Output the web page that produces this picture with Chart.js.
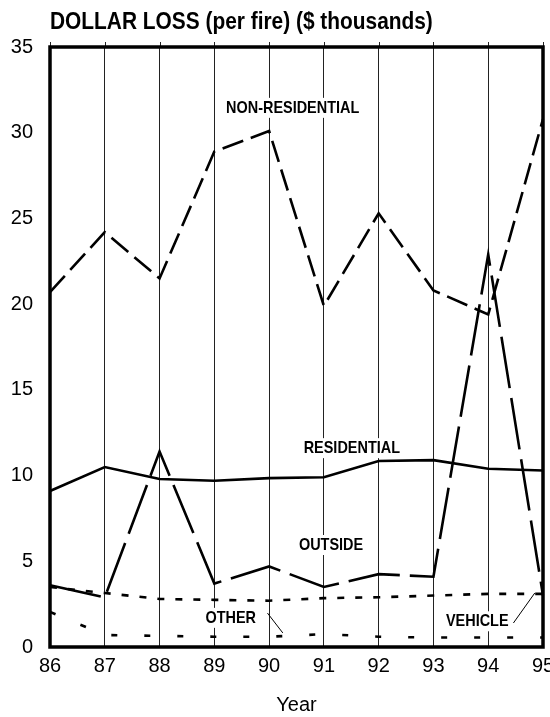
<!DOCTYPE html>
<html>
<head>
<meta charset="utf-8">
<script src="https://cdn.jsdelivr.net/npm/chart.js@4/dist/chart.umd.min.js"></script>
<style>
  html, body { margin: 0; padding: 0; background: #fff; }
  #wrap { width: 550px; height: 717px; }
</style>
</head>
<body>
<div id="wrap"><canvas id="chart"></canvas></div>
<script>
const years = ['86', '87', '88', '89', '90', '91', '92', '93', '94', '95'];
const nonResidential = [20.7, 24.2, 21.5, 28.9, 30.1, 19.9, 25.3, 20.8, 19.4, 30.8];
const residential = [9.1, 10.5, 9.8, 9.7, 9.85, 9.9, 10.85, 10.9, 10.4, 10.3];
const outside = [3.6, 2.9, 11.4, 3.7, 4.7, 3.5, 4.25, 4.1, 22.9, 3.0];
const vehicle = [3.5, 3.15, 2.8, 2.75, 2.7, 2.85, 2.9, 3.0, 3.1, 3.1];
const other = [2.05, 0.7, 0.65, 0.6, 0.6, 0.75, 0.6, 0.55, 0.55, 0.55];
const yMax = 35;
const yStep = 5;

const FONT = "'Liberation Sans', Arial, sans-serif";

// series labels placed in data coordinates (x = year index, y = value)
const seriesLabels = [
  { text: 'NON-RESIDENTIAL', x: 4.43, y: 31.45 },
  { text: 'RESIDENTIAL', x: 5.51, y: 11.6 },
  { text: 'OUTSIDE', x: 5.13, y: 5.95 },
  { text: 'OTHER', x: 3.3, y: 1.7, lead: [3.97, 1.98, 4.25, 0.82] },
  { text: 'VEHICLE', x: 7.8, y: 1.5, lead: [8.46, 1.4, 8.85, 3.15] }
];

// condensed bold text: squeeze Liberation Sans horizontally
function narrowText(ctx, text, cx, cy, size, sx, align) {
  ctx.font = 'bold ' + size + 'px ' + FONT;
  const w = ctx.measureText(text).width * sx;
  const left = align === 'left' ? cx : cx - w / 2;
  ctx.save();
  ctx.translate(left, cy);
  ctx.scale(sx, 1);
  ctx.textAlign = 'left';
  ctx.textBaseline = 'middle';
  ctx.fillText(text, 0, 0);
  ctx.restore();
  return w;
}

const overlay = {
  id: 'overlay',
  afterDatasetsDraw(chart) {
    const { ctx, chartArea: a, scales: { x, y } } = chart;
    ctx.save();
    // grid lines poke a little above the frame
    ctx.strokeStyle = '#222';
    ctx.lineWidth = 1;
    x.ticks.forEach((t, i) => {
      const px = Math.round(x.getPixelForTick(i)) + 0.5;
      ctx.beginPath();
      ctx.moveTo(px, a.top - 5);
      ctx.lineTo(px, a.top);
      ctx.stroke();
    });
    // labels with white boxes
    seriesLabels.forEach(l => {
      const px = x.getPixelForValue(l.x), py = y.getPixelForValue(l.y);
      ctx.font = 'bold 17px ' + FONT;
      const w = ctx.measureText(l.text).width * 0.85;
      ctx.fillStyle = '#fff';
      ctx.fillRect(px - w / 2 - 3, py - 10, w + 6, 20);
      ctx.fillStyle = '#000';
      narrowText(ctx, l.text, px, py, 17, 0.85, 'center');
      if (l.lead) {
        ctx.strokeStyle = '#000';
        ctx.lineWidth = 1;
        ctx.beginPath();
        ctx.moveTo(x.getPixelForValue(l.lead[0]), y.getPixelForValue(l.lead[1]));
        ctx.lineTo(x.getPixelForValue(l.lead[2]), y.getPixelForValue(l.lead[3]));
        ctx.stroke();
      }
    });
    // frame
    ctx.strokeStyle = '#000';
    ctx.lineWidth = 3.5;
    ctx.strokeRect(a.left, a.top, a.right - a.left, a.bottom - a.top);
    // title
    ctx.fillStyle = '#000';
    narrowText(ctx, 'DOLLAR LOSS (per fire) ($ thousands)', 50, 22, 24, 0.87, 'left');
    ctx.restore();
  }
};

function line(data, dash, width) {
  return {
    data, borderColor: '#000', borderWidth: width, borderDash: dash,
    pointRadius: 0, tension: 0, fill: false, borderCapStyle: 'butt'
  };
}

new Chart(document.getElementById('chart'), {
  type: 'line',
  data: {
    labels: years,
    datasets: [
      line(nonResidential, [22, 8], 2.6),
      line(residential, [], 2.6),
      line(outside, [52, 10], 2.6),
      line(vehicle, [7, 11], 2.6),
      line(other, [6, 27], 2.6)
    ]
  },
  options: {
    responsive: true,
    maintainAspectRatio: false,
    animation: false,
    layout: { padding: { top: 47, right: 7, left: 0, bottom: 0 } },
    plugins: { legend: { display: false }, tooltip: { enabled: false } },
    scales: {
      x: {
        offset: false,
        grid: { display: true, color: '#222', lineWidth: 1, drawTicks: false },
        border: { display: false },
        ticks: { color: '#000', font: { family: FONT, size: 20 }, padding: 7, maxRotation: 0 },
        title: { display: true, text: 'Year', color: '#000', font: { family: FONT, size: 20 }, padding: { top: 18, bottom: 0 } },
        afterFit(s) { s.height = 70; s.paddingLeft = 0; s.paddingRight = 0; }
      },
      y: {
        min: 0, max: yMax,
        grid: { display: false, drawTicks: false },
        border: { display: false },
        ticks: { stepSize: yStep, color: '#000', font: { family: FONT, size: 20 }, padding: 17 },
        afterFit(s) { s.width = 50; s.paddingTop = 0; s.paddingBottom = 0; }
      }
    }
  },
  plugins: [overlay]
});
</script>
</body>
</html>
